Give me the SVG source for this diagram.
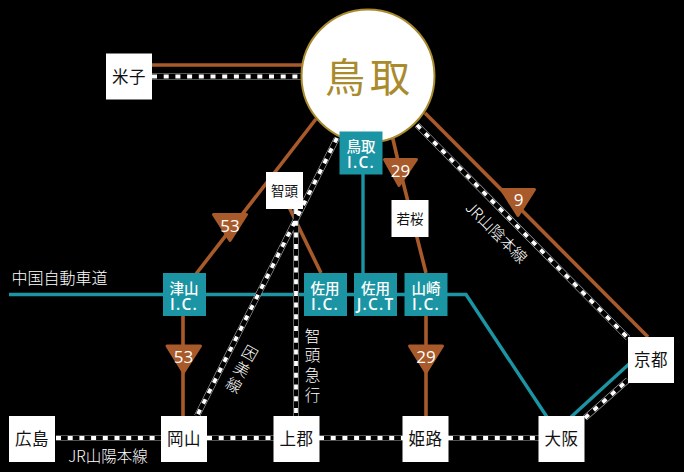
<svg xmlns="http://www.w3.org/2000/svg" width="684" height="472" viewBox="0 0 684 472">
<style>
text{font-family:"Noto Sans CJK JP","Noto Sans",sans-serif;text-anchor:middle}
.road{fill:none;stroke:#a85a2a;stroke-width:3.600}
.exp{fill:none;stroke:#1b95a3;stroke-width:3.400}
.ra{fill:none;stroke:#aaa;stroke-width:6}
.rb{fill:none;stroke:#000;stroke-width:4.800}
.rc{fill:none;stroke:#fff;stroke-width:3.800;stroke-dasharray:5 6.700}
.st{fill:#fff}
.stt{font-size:16.500px;fill:#111;letter-spacing:.5px}
.sm{font-size:13.500px;fill:#111}
.ic{fill:#1b95a3}
.ict{font-size:14.500px;fill:#fff;font-weight:500}
.lat{font-family:"Open Sans",sans-serif;font-size:15.500px;font-weight:600;letter-spacing:1.200px}
.tri{fill:#a85a2a;stroke:#a85a2a;stroke-width:3;stroke-linejoin:round}
.num{font-family:"Open Sans",sans-serif;font-size:17px;fill:#fff}
.lab{font-size:15.500px;fill:#fff;font-weight:300}
</style>
<rect width="684" height="472" fill="#000"/>
<g id="connectors">
<path class="road" d="M152 65H310"/>
<path class="road" d="M316 119L196 274"/>
<path class="road" d="M183 316V416"/>
<path class="road" d="M288 205L321 273"/>
<path class="road" d="M392 135L402 178L426 273"/>
<path class="road" d="M426 316V416"/>
<path class="road" d="M425 113L648 337"/>
<path class="exp" d="M9 294.500H466L547 417"/>
<path class="exp" d="M363 170V273"/>
<path class="exp" d="M571 417L629 364"/>
<g id="rails">
<path class="ra" d="M152 76.500H305M56 438H162M207 438H274M319 438H403M448 438H540"/>
<path class="rb" d="M152 76.500H305M56 438H162M207 438H274M319 438H403M448 438H540"/>
<path class="rc" d="M152 76.500H305M56 438H162M207 438H274M319 438H403M448 438H540"/>
<path class="ra" d="M337 138L197 416M296 209V416M417 125L628 338M585 418L628 380"/>
<path class="rb" d="M337 138L197 416M296 209V416M417 125L628 338M585 418L628 380"/>
<path class="rc" d="M337 138L197 416M296 209V416M417 125L628 338M585 418L628 380"/>
</g>
</g>
<g id="tottori"><circle cx="368" cy="76" r="66.500" fill="#fff" stroke="#a98a2c" stroke-width="2"/><text x="370" y="92" font-size="40" fill="#a98a2c" font-weight="400" letter-spacing="5">鳥取</text></g>
<g id="yonago"><rect class="st" x="106" y="53.500" width="46" height="46"/><text class="stt" x="129" y="82.500">米子</text></g>
<g id="chizu"><rect class="st" x="266" y="172" width="37" height="37"/><text class="sm" x="284.500" y="196">智頭</text></g>
<g id="wakasa"><rect class="st" x="391.500" y="200" width="37" height="37"/><text class="sm" x="410" y="224">若桜</text></g>
<g id="tottori-ic"><rect class="ic" x="339.500" y="131.500" width="43" height="43"/><text class="ict" x="361" y="152">鳥取<tspan class="lat" x="361" dy="16">I.C.</tspan></text></g>
<g id="tsuyama-ic"><rect class="ic" x="163" y="273" width="43" height="43"/><text class="ict" x="184" y="293.500">津山<tspan class="lat" x="184" dy="16">I.C.</tspan></text></g>
<g id="sayo-ic"><rect class="ic" x="304" y="273" width="43" height="43"/><text class="ict" x="325" y="293.500">佐用<tspan class="lat" x="325" dy="16">I.C.</tspan></text></g>
<g id="sayo-jct"><rect class="ic" x="354" y="273" width="43" height="43"/><text class="ict" x="375.500" y="293.500">佐用<tspan class="lat" x="375.500" dy="16">J.C.T</tspan></text></g>
<g id="yamasaki-ic"><rect class="ic" x="404.500" y="273" width="43" height="43"/><text class="ict" x="426" y="293.500">山崎<tspan class="lat" x="426" dy="16">I.C.</tspan></text></g>
<g id="r29a"><path class="tri" d="M384.500 159.500H416.500L399 185.500Z"/><text class="num" x="400.500" y="177">29</text></g>
<g id="r53a"><path class="tri" d="M213.500 214.500H246.500L230 240.500Z"/><text class="num" x="230" y="231.500">53</text></g>
<g id="r53b"><path class="tri" d="M167 346H200.500L183.500 372.500Z"/><text class="num" x="183.500" y="363">53</text></g>
<g id="r29b"><path class="tri" d="M409.500 346H442.500L426 372.500Z"/><text class="num" x="426" y="363">29</text></g>
<g id="r9"><path class="tri" d="M501.500 189.500H534.500L518 215.500Z"/><text class="num" x="518.500" y="206">9</text></g>
<g id="hiroshima"><rect class="st" x="9" y="416" width="46" height="46"/><text class="stt" x="32" y="445">広島</text></g>
<g id="okayama"><rect class="st" x="161" y="416" width="46" height="46"/><text class="stt" x="184" y="445">岡山</text></g>
<g id="kamigori"><rect class="st" x="273.500" y="416" width="46" height="46"/><text class="stt" x="296.500" y="445">上郡</text></g>
<g id="himeji"><rect class="st" x="402.500" y="416" width="46" height="46"/><text class="stt" x="425.500" y="445">姫路</text></g>
<g id="osaka"><rect class="st" x="538.500" y="416" width="46" height="46"/><text class="stt" x="561.500" y="445">大阪</text></g>
<g id="kyoto"><rect class="st" x="628" y="337" width="46" height="46"/><text class="stt" x="651" y="366">京都</text></g>
<g id="labels">
<text class="lab" x="59.500" y="284" style="font-size:16px">中国自動車道</text>
<text class="lab" x="108" y="462">JR山陽本線</text>
<text class="lab" x="312.500" y="342">智</text>
<text class="lab" x="312.500" y="361">頭</text>
<text class="lab" x="312.500" y="381">急</text>
<text class="lab" x="312.500" y="401">行</text>
<text class="lab" transform="translate(247 358) rotate(30)">因</text>
<text class="lab" transform="translate(239 374) rotate(30)">美</text>
<text class="lab" transform="translate(231 390) rotate(30)">線</text>
<text class="lab" transform="translate(492.500 236.500) rotate(45)">JR山陰本線</text>
</g>
</svg>
